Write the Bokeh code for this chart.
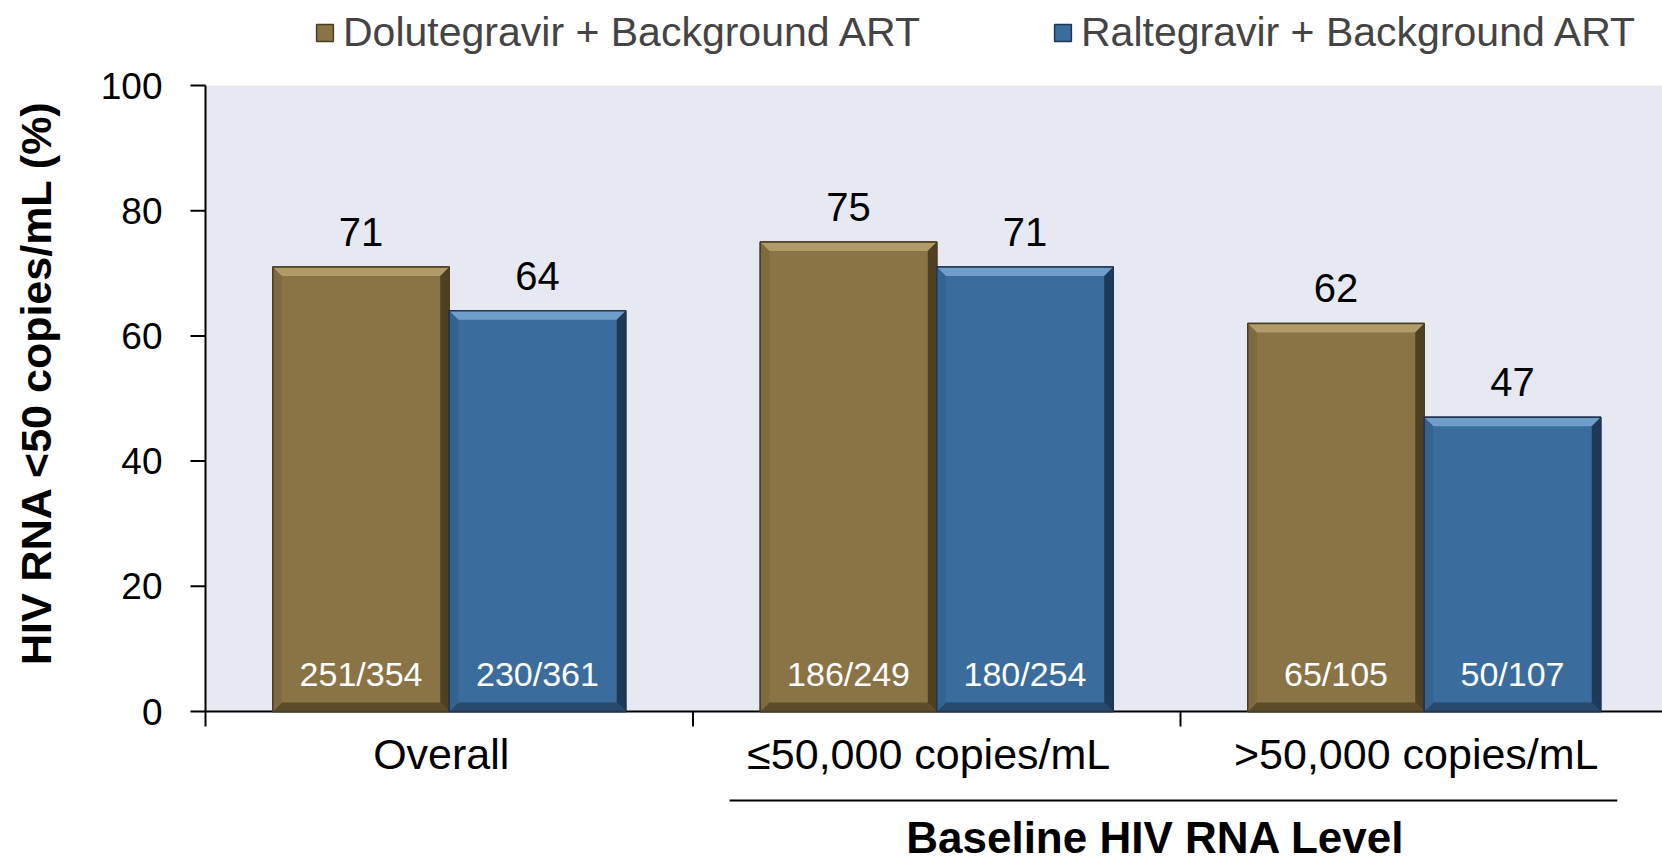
import math
from bokeh.plotting import figure
from bokeh.models import (Range1d, Legend, LegendItem, ColumnDataSource, Span)
from bokeh.core.properties import value
from bokeh.embed import file_html
from bokeh.resources import INLINE

# ---------------- data ----------------
categories = ["Overall", "\u226450,000 copies/mL", ">50,000 copies/mL"]
series_names = ["Dolutegravir + Background ART", "Raltegravir + Background ART"]
dolutegravir = [71, 75, 62]
raltegravir = [64, 71, 47]
dolutegravir_n = ["251/354", "186/249", "65/105"]
raltegravir_n = ["230/361", "180/254", "50/107"]
y_ticks = [0, 20, 40, 60, 80, 100]
y_tick_labels = ["0", "20", "40", "60", "80", "100"]
y_title = "HIV RNA <50 copies/mL (%)"
group_title = "Baseline HIV RNA Level"

FONT = "Liberation Sans"

# ---------------- layout constants ----------------
W, H = 1662, 861
LEFT = 205             # pixel column of x = 0 (y axis)
PX_PER_CAT = 487.5     # px per category along x
PX_PER_UNIT = 6.26     # px per % along y
Y0_PX = 711            # pixel row of y = 0
Y100_PX = Y0_PX - 100 * PX_PER_UNIT

x_start = -LEFT / PX_PER_CAT
x_end = (W - LEFT) / PX_PER_CAT
y_start = -(H - Y0_PX) / PX_PER_UNIT
y_end = 100 + Y100_PX / PX_PER_UNIT

p = figure(width=W, height=H,
           x_range=Range1d(x_start, x_end), y_range=Range1d(y_start, y_end),
           output_backend="svg", toolbar_location=None,
           x_axis_type=None, y_axis_type=None,
           min_border_left=0, min_border_right=0,
           min_border_top=0, min_border_bottom=0)
p.background_fill_color = "white"
p.border_fill_color = "white"
p.outline_line_color = None
p.xgrid.visible = False
p.ygrid.visible = False

# plot-area background (0..100 band)
p.quad(left=[0], right=[x_end], bottom=[0], top=[100],
       fill_color="#e6e9f1", line_color=None)

# ---------------- y axis (drawn through the data scales) ----------------
tick_len_x = 15 / PX_PER_CAT
p.segment(x0=[0], y0=[0], x1=[0], y1=[100], line_color="black", line_width=2)
p.segment(x0=[0] * len(y_ticks), y0=y_ticks, x1=[-tick_len_x] * len(y_ticks),
          y1=y_ticks, line_color="black", line_width=2)
p.text(x=[0] * len(y_ticks), y=y_ticks, text=y_tick_labels, x_offset=-43,
       text_align="right", text_baseline="middle",
       text_font=value(FONT), text_font_size="37px", text_color="black")
p.text(x=[0], y=[50], text=[y_title], angle=math.pi / 2,
       x_offset=35 - LEFT, y_offset=-16,
       text_align="center", text_baseline="middle",
       text_font=value(FONT), text_font_size="43px", text_font_style="bold",
       text_color="black")

# ---------------- x axis line at y = 0 and category separator ticks ----------------
p.segment(x0=[0], y0=[0], x1=[x_end], y1=[0], line_color="black", line_width=2)
sep_x = list(range(len(categories) + 1))
tick_len = 15 / PX_PER_UNIT
p.segment(x0=sep_x, y0=[0] * len(sep_x), x1=sep_x, y1=[-tick_len] * len(sep_x),
          line_color="black", line_width=2)

# ---------------- bars ----------------
bw = 0.362
styles = [
    dict(main="#8a7446", top="#b19b69", left="#7f6a3f", right="#4e4022",
         bottom="#5c4c2a", line="#4a3d20"),
    dict(main="#3a6d9e", top="#709ecb", left="#356391", right="#1e3a58",
         bottom="#27496e", line="#1f3550"),
]
series_vals = [dolutegravir, raltegravir]
series_n = [dolutegravir_n, raltegravir_n]
bx = 9 / PX_PER_CAT
by = 9 / PX_PER_UNIT

legend_items = []
for si, (vals, ns, st, name) in enumerate(zip(series_vals, series_n, styles, series_names)):
    lefts = [i + 0.5 - bw + si * bw for i in range(len(vals))]
    rights = [l + bw for l in lefts]
    centers = [(l + r) / 2 for l, r in zip(lefts, rights)]
    src = ColumnDataSource(dict(left=lefts, right=rights, top=vals,
                                bottom=[0] * len(vals), cx=centers, n=ns,
                                lbl=[str(v) for v in vals]))
    r = p.quad(left="left", right="right", top="top", bottom="bottom", source=src,
               fill_color=st["main"], line_color=st["line"], line_width=1.5)
    legend_items.append(LegendItem(label=name, renderers=[r]))

    # bevel faces
    tx, ty, rx, ry, bxs, bys, lx, ly = [], [], [], [], [], [], [], []
    for L, R, T in zip(lefts, rights, vals):
        tx.append([L, R, R - bx, L + bx]); ty.append([T, T, T - by, T - by])
        rx.append([R, R, R - bx, R - bx]); ry.append([T, 0, by, T - by])
        bxs.append([L, R, R - bx, L + bx]); bys.append([0, 0, by, by])
        lx.append([L, L + bx, L + bx, L]); ly.append([T, T - by, by, 0])
    p.patches(tx, ty, fill_color=st["top"], line_color=None)
    p.patches(rx, ry, fill_color=st["right"], line_color=None)
    p.patches(bxs, bys, fill_color=st["bottom"], line_color=None)
    p.patches(lx, ly, fill_color=st["left"], line_color=None)
    p.quad(left="left", right="right", top="top", bottom="bottom", source=src,
           fill_color=None, line_color=st["line"], line_width=1.5)

    p.text(x="cx", y="top", text="lbl", source=src, y_offset=-35,
           text_align="center", text_baseline="middle",
           text_font=value(FONT), text_font_size="40px", text_color="black")
    p.text(x="cx", y="bottom", text="n", source=src, y_offset=-38,
           text_align="center", text_baseline="middle",
           text_font=value(FONT), text_font_size="34px", text_color="white")

legend = Legend(items=legend_items, orientation="horizontal",
                location=(314, H - 33 - 23),
                glyph_width=21, glyph_height=21, label_text_font=FONT,
                label_text_font_size="41px", label_standoff=8, spacing=132,
                padding=0, margin=0, background_fill_alpha=0,
                border_line_color=None, label_height=46)
p.add_layout(legend, "center")

# ---------------- category labels & group title ----------------
cat_src = ColumnDataSource(dict(x=[i + 0.5 for i in range(len(categories))],
                                y=[0] * len(categories), t=categories))
p.text(x="x", y="y", text="t", source=cat_src, y_offset=42, x_offset=-8,
       text_align="center", text_baseline="middle",
       text_font=value(FONT), text_font_size="43px", text_color="black")

grp_y = -(800 - Y0_PX) / PX_PER_UNIT
p.segment(x0=[1.075], y0=[grp_y], x1=[2.896], y1=[grp_y],
          line_color="black", line_width=2)
p.text(x=[1.949], y=[0], text=[group_title], y_offset=837 - Y0_PX,
       text_align="center", text_baseline="middle",
       text_font=value(FONT), text_font_size="44px", text_font_style="bold",
       text_color="black")

open("out.html", "w").write(file_html(p, INLINE))
